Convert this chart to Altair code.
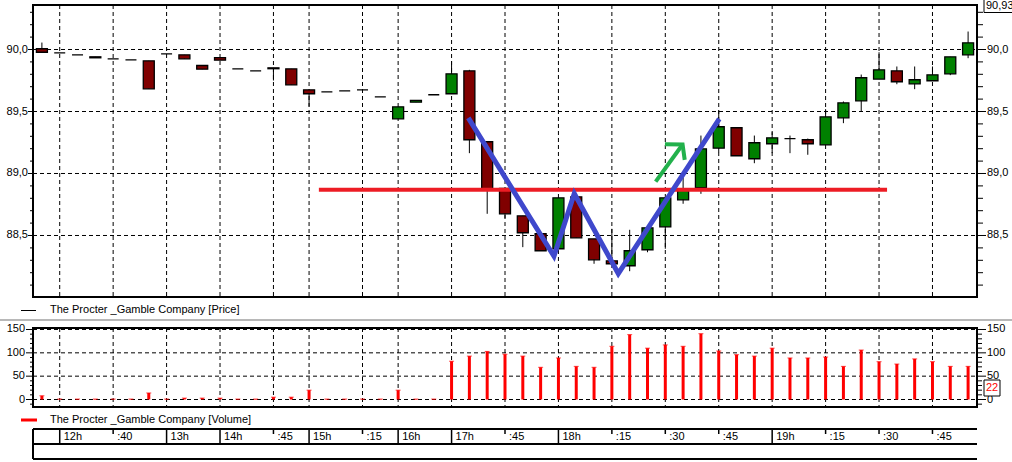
import altair as alt
import pandas as pd

# ---------------- data ----------------
opens = [90.006, 89.973, 89.957, 89.941, 89.925, 89.917, 89.909, 89.965, 89.957, 89.871,
         89.935, 89.844, 89.828, 89.852, 89.844, 89.675, 89.659, 89.667, 89.675, 89.618,
         89.441, 89.575, 89.635, 89.643, 89.828, 89.256, 88.880, 88.659, 88.514, 88.393,
         88.812, 88.473, 88.296, 88.256, 88.385, 88.570, 88.788, 88.885, 89.204, 89.369,
         89.119, 89.240, 89.282, 89.272, 89.231, 89.449, 89.586, 89.761, 89.828, 89.723,
         89.748, 89.804, 89.957]
highs = [90.056, 89.973, 89.957, 89.941, 89.925, 89.917, 89.909, 89.965, 89.957, 89.871,
         89.935, 89.844, 89.828, 89.852, 89.844, 89.675, 89.659, 89.667, 89.675, 89.618,
         89.538, 89.589, 89.635, 89.906, 89.836, 89.256, 88.880, 88.659, 88.514, 88.804,
         88.812, 88.473, 88.554, 88.546, 88.562, 88.804, 88.970, 89.306, 89.508, 89.369,
         89.306, 89.333, 89.306, 89.282, 89.519, 89.581, 89.798, 89.978, 89.863, 89.863,
         89.863, 89.941, 90.145]
lows = [89.978, 89.973, 89.957, 89.933, 89.925, 89.917, 89.683, 89.965, 89.925, 89.841,
        89.914, 89.844, 89.828, 89.750, 89.715, 89.540, 89.659, 89.667, 89.675, 89.618,
        89.441, 89.575, 89.635, 89.643, 89.164, 88.675, 88.640, 88.406, 88.377, 88.393,
        88.481, 88.272, 88.272, 88.212, 88.365, 88.393, 88.756, 88.836, 89.172, 89.143,
        89.083, 89.164, 89.164, 89.151, 89.231, 89.406, 89.500, 89.761, 89.720, 89.680,
        89.748, 89.793, 89.930]
closes = [89.978, 89.973, 89.957, 89.933, 89.925, 89.917, 89.683, 89.965, 89.925, 89.841,
          89.914, 89.844, 89.828, 89.845, 89.715, 89.643, 89.659, 89.667, 89.675, 89.618,
          89.538, 89.589, 89.635, 89.804, 89.272, 88.877, 88.675, 88.522, 88.377, 88.804,
          88.481, 88.304, 88.272, 88.377, 88.562, 88.804, 88.875, 89.199, 89.377, 89.143,
          89.248, 89.288, 89.282, 89.240, 89.457, 89.570, 89.772, 89.836, 89.740, 89.756,
          89.796, 89.941, 90.054]
volumes = [8, 1, 1, 1, 1, 1, 14, 1, 3, 3, 3, 1, 1, 5, 5, 20, 1, 1, 1, 1, 20, 1, 1,
           82, 93, 103, 97, 93, 69, 89, 71, 69, 114, 139, 110, 117, 114, 141, 104, 96,
           93, 110, 89, 89, 91, 71, 106, 81, 76, 87, 81, 71, 71]

time_label_idx = [1, 4, 7, 10, 13, 15, 18, 20, 23, 26, 29, 32, 35, 38, 41, 44, 47, 50]
time_labels = ["12h", ":40", "13h", "14h", ":45", "15h", ":15", "16h", "17h", ":45",
               "18h", ":15", ":30", ":45", "19h", ":15", ":30", ":45"]
time_label_major = [True, False, True, True, False, True, False, True, True, False,
                    True, False, False, False, True, False, False, False]

price_ticks = [88.5, 89.0, 89.5, 90.0]
price_tick_labels = ["88,5", "89,0", "89,5", "90,0"]
price_minor = [88.1, 88.2, 88.3, 88.4, 88.6, 88.7, 88.8, 88.9, 89.1, 89.2, 89.3, 89.4,
               89.6, 89.7, 89.8, 89.9, 90.1, 90.2, 90.3]
vol_ticks = [0, 50, 100, 150]
vol_tick_labels = ["0", "50", "100", "150"]
vol_minor = [-10, 10, 20, 30, 40, 60, 70, 80, 90, 110, 120, 130, 140]

support_x = [15.55, 47.45]
support_y = [88.868, 88.868]
zigzag_x = [23.94, 28.75, 29.89, 32.36, 38.03]
zigzag_y = [89.449, 88.333, 88.838, 88.193, 89.441]
arrow_x = [34.46, 35.97, 34.98, 35.97, 36.09]
arrow_y = [88.935, 89.234, 89.236, 89.234, 89.110]
arrow_seg = [0, 0, 1, 1, 1]

series_price = "The Procter _Gamble Company [Price]"
series_volume = "The Procter _Gamble Company [Volume]"
last_price_label = "90,93"
last_volume_label = "22"

# ---------------- styles ----------------
FONT = "Liberation Sans"
FS = 11
DASH = [4, 3]
UP, DOWN = "#008000", "#800000"

X = alt.Scale(domain=[-0.5, 52.5], range=[33, 977], nice=False, zero=False, padding=0)
YP = alt.Scale(domain=[88.004, 90.3589], range=[297, 5], nice=False, zero=False, padding=0)
YV = alt.Scale(domain=[-16.07, 153.21], range=[407, 328], nice=False, zero=False, padding=0)

one = pd.DataFrame({"a": [0]})
cdf = pd.DataFrame({"idx": list(range(len(opens))), "o": opens, "h": highs,
                    "l": lows, "c": closes})
cdf["dir"] = ["up" if c >= o else "down" for o, c in zip(opens, closes)]
vdf = pd.DataFrame({"idx": list(range(len(volumes))), "v": volumes, "base": [0] * len(volumes)})
tdf = pd.DataFrame({"idx": time_label_idx, "lab": time_labels, "major": time_label_major})
gx = pd.DataFrame({"idx": time_label_idx})
ptk = pd.DataFrame({"v": price_ticks, "lab": price_tick_labels})
pmin = pd.DataFrame({"v": price_minor})
vtk = pd.DataFrame({"v": vol_ticks, "lab": vol_tick_labels})
vmin = pd.DataFrame({"v": vol_minor})
sup = pd.DataFrame({"x": support_x, "y": support_y, "ord": [0, 1]})
zz = pd.DataFrame({"x": zigzag_x, "y": zigzag_y, "ord": list(range(len(zigzag_x)))})
arr = pd.DataFrame({"x": arrow_x, "y": arrow_y, "seg": arrow_seg,
                    "ord": list(range(len(arrow_x)))})


def xq(field):
    return alt.X(field, type="quantitative", scale=X, axis=None)


def yq(field, sc):
    return alt.Y(field, type="quantitative", scale=sc, axis=None)


def box(x1, x2, y1, y2, fill="white", sw=2, fo=1.0):
    return alt.Chart(one).mark_rect(fill=fill, fillOpacity=fo, stroke="black",
                                    strokeWidth=sw).encode(
        x=alt.value(x1), x2=alt.value(x2), y=alt.value(y1), y2=alt.value(y2))


def hline(y, x1, x2, color="black", sw=1):
    return alt.Chart(one).mark_rule(color=color, strokeWidth=sw).encode(
        x=alt.value(x1), x2=alt.value(x2), y=alt.value(y))


def vline(x, y1, y2, color="black", sw=1):
    return alt.Chart(one).mark_rule(color=color, strokeWidth=sw).encode(
        x=alt.value(x), y=alt.value(y1), y2=alt.value(y2))


def label(txt, x, y, align="left", color="black"):
    return alt.Chart(one).mark_text(text=txt, align=align, baseline="middle", font=FONT,
                                    fontSize=FS, color=color).encode(
        x=alt.value(x), y=alt.value(y))


def axis_layers(tk, mn, sc, lx, rx, lmaj, lmin, rmaj, rmin):
    return [
        alt.Chart(mn).mark_rule(color="black").encode(
            y=yq("v", sc), x=alt.value(33 - lmin), x2=alt.value(33)),
        alt.Chart(mn).mark_rule(color="black").encode(
            y=yq("v", sc), x=alt.value(977), x2=alt.value(977 + rmin)),
        alt.Chart(tk).mark_rule(color="black").encode(
            y=yq("v", sc), x=alt.value(33 - lmaj), x2=alt.value(33)),
        alt.Chart(tk).mark_rule(color="black").encode(
            y=yq("v", sc), x=alt.value(977), x2=alt.value(977 + rmaj)),
        alt.Chart(tk).mark_text(align="right", baseline="middle", font=FONT, fontSize=FS,
                                color="black").encode(
            y=yq("v", sc), x=alt.value(lx), text="lab:N"),
        alt.Chart(tk).mark_text(align="left", baseline="middle", font=FONT, fontSize=FS,
                                color="black").encode(
            y=yq("v", sc), x=alt.value(rx), text="lab:N"),
    ]


# ---------------- price panel ----------------
price = alt.layer(
    alt.Chart(ptk).mark_rule(color="black", strokeDash=DASH).encode(
        y=yq("v", YP), x=alt.value(33), x2=alt.value(977)),
    alt.Chart(gx).mark_rule(color="black", strokeDash=DASH).encode(
        x=xq("idx"), y=alt.value(5), y2=alt.value(297)),
    alt.Chart(cdf).mark_rule(color="black", strokeWidth=1).encode(
        x=xq("idx"), y=yq("l", YP), y2="h"),
    alt.Chart(cdf).mark_bar(size=11, stroke="black", strokeWidth=1.3).encode(
        x=xq("idx"), y=yq("o", YP), y2="c",
        color=alt.Color("dir:N", scale=alt.Scale(domain=["up", "down"], range=[UP, DOWN]),
                        legend=None)),
    alt.Chart(sup).mark_line(color="#ed1c24", strokeWidth=4).encode(
        x=xq("x"), y=yq("y", YP), order="ord:Q"),
    alt.Chart(zz).mark_line(color="#3f48cc", strokeWidth=5, strokeJoin="miter").encode(
        x=xq("x"), y=yq("y", YP), order="ord:Q"),
    alt.Chart(arr).mark_line(color="#22b14c", strokeWidth=4).encode(
        x=xq("x"), y=yq("y", YP), detail="seg:N", order="ord:Q"),
    *axis_layers(ptk, pmin, YP, 28, 987, 5, 3, 9, 6),
    box(33, 977, 5, 297, fill="white", fo=0.0),
)

# ---------------- volume panel ----------------
volume = alt.layer(
    alt.Chart(vtk).mark_rule(color="black", strokeDash=DASH).encode(
        y=yq("v", YV), x=alt.value(33), x2=alt.value(977)),
    alt.Chart(gx).mark_rule(color="black", strokeDash=DASH).encode(
        x=xq("idx"), y=alt.value(328), y2=alt.value(407)),
    alt.Chart(vdf).mark_rule(color="#ff0000", strokeWidth=3).encode(
        x=xq("idx"), y=yq("base", YV), y2="v"),
    alt.Chart(vdf).mark_tick(color="#ff0000", orient="horizontal", size=5, thickness=1).encode(
        x=xq("idx"), y=yq("v", YV)),
    *axis_layers(vtk, vmin, YV, 25, 987, 7, 3, 9, 5),
    box(33, 977, 328, 407, fill="white", fo=0.0),
)

# ---------------- decorations / time strip ----------------
decor = alt.layer(
    hline(320, 0, 1012, color="#a0a0a0", sw=1.5),
    hline(310.5, 21, 36, color="black", sw=1),
    label(series_price, 50, 310),
    hline(420, 21, 37, color="#ff0000", sw=3),
    label(series_volume, 50, 420),
    hline(429, 33, 977, sw=2),
    hline(444, 33, 977, sw=2),
    hline(459, 33, 977, sw=2),
    vline(33, 429, 459, sw=2),
    alt.Chart(tdf[tdf["major"]]).mark_rule(color="black", strokeWidth=1.5).encode(
        x=xq("idx"), y=alt.value(429), y2=alt.value(444)),
    alt.Chart(tdf[~tdf["major"]]).mark_rule(color="black", strokeWidth=1.5).encode(
        x=xq("idx"), y=alt.value(429), y2=alt.value(434)),
    alt.Chart(tdf).mark_text(align="left", baseline="middle", font=FONT, fontSize=FS,
                             color="black", dx=4).encode(
        x=xq("idx"), y=alt.value(437), text="lab:N"),
    box(984, 1016, -2, 12.5, sw=1),
    label(last_price_label, 986, 6),
    box(984, 1000, 380, 396, sw=1),
    label(last_volume_label, 992, 388, align="center", color="#ff0000"),
)

chart = alt.layer(price, volume, decor).resolve_scale(y="independent").properties(
    width=1012, height=462, autosize=alt.AutoSizeParams(type="none"), padding=0,
    background="white",
).configure_view(stroke=None)

chart.save("out.html", embed_options={"renderer": "svg", "actions": False})
